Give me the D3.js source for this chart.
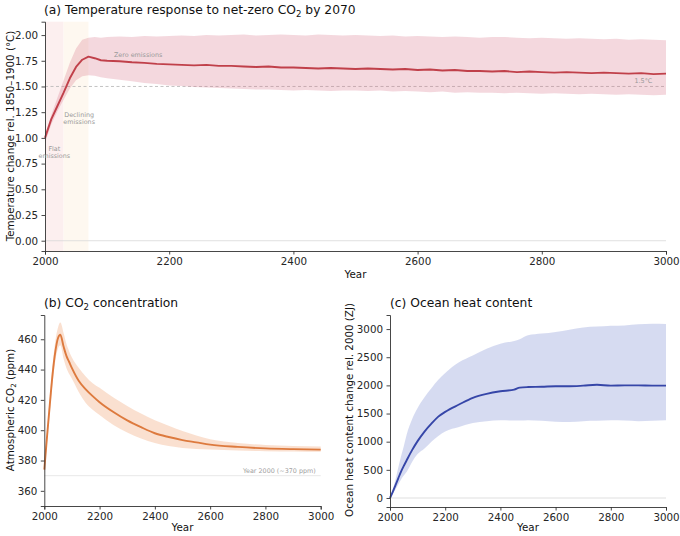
<!DOCTYPE html>
<html>
<head>
<meta charset="utf-8">
<script src="https://cdn.jsdelivr.net/npm/d3@7"></script>
<style>
body{margin:0;background:#fff;}
svg{font-family:"DejaVu Sans",sans-serif;}
</style>
</head>
<body>
<svg width="680" height="536"></svg>
<script>
// ---- data ----
var tempYears = [2000,2010,2020,2030,2040,2050,2060,2070,2080,2090,2100,
	2120,2140,2160,2180,2200,2220,2240,2260,2280,2300,2320,2340,2360,2380,2400,
	2420,2440,2460,2480,2500,2520,2540,2560,2580,2600,2620,2640,2660,2680,2700,
	2720,2740,2760,2780,2800,2820,2840,2860,2880,2900,2920,2940,2960,2980,3000];
var tempMean = [1.00,1.18,1.31,1.44,1.58,1.69,1.76,1.79,1.775,1.755,1.75,
	1.745,1.735,1.73,1.72,1.715,1.71,1.705,1.71,1.70,1.70,1.695,1.69,1.695,1.685,1.685,
	1.68,1.675,1.68,1.675,1.67,1.675,1.67,1.665,1.67,1.66,1.665,1.655,1.66,1.65,1.65,
	1.645,1.65,1.64,1.645,1.64,1.635,1.64,1.635,1.63,1.635,1.63,1.625,1.63,1.62,1.625];
var tempHigh = [1.03,1.22,1.39,1.56,1.73,1.87,1.955,1.975,1.98,1.975,1.98,
	1.985,1.98,1.99,1.985,1.99,1.995,1.99,2.00,1.995,2.00,2.005,1.995,2.00,2.005,2.00,
	1.995,2.005,2.00,1.995,2.00,1.995,1.99,1.995,1.985,1.99,1.985,1.98,1.985,1.98,1.975,
	1.98,1.98,1.975,1.97,1.975,1.97,1.965,1.97,1.965,1.96,1.965,1.955,1.96,1.955,1.95];
var tempLow = [0.95,1.13,1.26,1.37,1.48,1.56,1.60,1.61,1.605,1.59,1.58,
	1.565,1.55,1.535,1.525,1.51,1.505,1.495,1.49,1.485,1.48,1.475,1.47,1.47,1.465,1.46,
	1.465,1.46,1.455,1.46,1.46,1.455,1.46,1.45,1.455,1.45,1.445,1.45,1.44,1.445,1.44,
	1.44,1.435,1.44,1.435,1.43,1.435,1.43,1.425,1.43,1.425,1.42,1.425,1.42,1.415,1.42];

var co2Years = [2000,2010,2020,2030,2040,2050,2058,2070,2080,2090,2100,2125,2150,2175,2200,
	2250,2300,2350,2400,2450,2500,2550,2600,2700,2800,2900,3000];
var co2Mean = [374,396,417,437,452,461,463,455,449,445,441,432.5,427,422.5,418.5,
	412,406.5,402,398,395.5,393.5,392,390.5,389,388,387.5,387.2];
var co2High = [377,400,422,443,459,468,471,464,457,452,448,441,435.5,431,428,
	421.5,416,411,406.5,403,399.5,396.5,394,391.5,390.3,389.6,389.2];
var co2Low = [371,392,412,431,446,454,456,447,441,437,434,425,418,413.5,410,
	403.5,398.5,394.5,391.5,389.5,388.3,387.6,387.2,386.6,386.2,386,385.8];

var ohcYears = [2000,2010,2020,2030,2040,2050,2060,2080,2100,2125,2150,2175,2200,2250,2300,
	2350,2400,2450,2470,2500,2550,2600,2650,2700,2750,2800,2850,2900,2950,3000];
var ohcMean = [0,110,230,350,470,570,665,850,1010,1180,1320,1445,1530,1660,1780,
	1850,1895,1925,1960,1970,1975,1985,1985,1995,2010,1995,2000,2000,1995,1995];
var ohcHigh = [0,150,330,540,740,920,1120,1400,1600,1790,1950,2100,2220,2410,2530,
	2650,2740,2790,2820,2890,2920,2950,2990,3030,3045,3060,3065,3085,3095,3090];
var ohcLow = [0,70,150,240,330,400,460,640,780,880,1000,1100,1180,1260,1330,
	1365,1380,1375,1375,1380,1370,1355,1350,1365,1370,1380,1375,1365,1370,1380];

var yearTicks = [2000,2200,2400,2600,2800,3000];
var tempTicks = [0,0.25,0.5,0.75,1.0,1.25,1.5,1.75,2.0];
var co2Ticks = [360,380,400,420,440,460];
var ohcTicks = [0,500,1000,1500,2000,2500,3000];

var phases = [
	{name: ["Flat", "emissions"], from: 2000, to: 2030, fill: "#fcefef", lx: 2015, ly: 0.89},
	{name: ["Declining", "emissions"], from: 2030, to: 2070, fill: "#fef8f0", lx: 2055, ly: 1.22},
	{name: ["Zero emissions"], from: 2070, to: 3000, fill: null, lx: 2150, ly: 1.81}
];

var svg = d3.select("svg");
var axisColor = "#333";
var tickSize = 10.3, labelSize = 10.3, titleSize = 12.3, noteSize = 6.4;

function makePanel(left, right, top, bottom, yDomain){
	var x = d3.scaleLinear().domain([2000, 3000]).range([left, right]);
	var y = d3.scaleLinear().domain(yDomain).range([bottom, top]);
	return {x: x, y: y, g: svg.append("g")};
}

function drawAxes(p, yTicks, fmt){
	var xa = p.g.append("g")
		.attr("transform", "translate(0," + p.y.range()[0] + ")")
		.call(d3.axisBottom(p.x).tickValues(yearTicks).tickSize(3.5).tickPadding(3.5).tickFormat(d3.format("d")));
	var ya = p.g.append("g")
		.attr("transform", "translate(" + p.x.range()[0] + ",0)")
		.call(d3.axisLeft(p.y).tickValues(yTicks).tickSize(3.5).tickPadding(3.5).tickFormat(fmt));
	[xa, ya].forEach(function(a){
		a.selectAll("path").attr("stroke", axisColor).attr("stroke-width", 0.9);
		a.selectAll("line").attr("stroke", axisColor).attr("stroke-width", 0.9);
		a.selectAll("text").attr("fill", "#262626").attr("font-size", tickSize)
			.attr("font-family", "DejaVu Sans, sans-serif");
	});
}

function drawSeries(p, years, mean, lo, hi, lineColor, bandColor, bandOpacity, curve){
	var rows = years.map(function(d, i){ return {yr: d, m: mean[i], lo: lo[i], hi: hi[i]}; });
	var area = d3.area().curve(curve)
		.x(function(d){ return p.x(d.yr); })
		.y0(function(d){ return p.y(d.lo); })
		.y1(function(d){ return p.y(d.hi); });
	var line = d3.line().curve(curve)
		.x(function(d){ return p.x(d.yr); })
		.y(function(d){ return p.y(d.m); });
	p.g.append("path").datum(rows).attr("d", area).attr("fill", bandColor).attr("fill-opacity", bandOpacity);
	p.g.append("path").datum(rows).attr("d", line)
		.attr("fill", "none").attr("stroke", lineColor).attr("stroke-width", 1.9)
		.attr("stroke-linejoin", "round");
}

function hline(p, v, color, dash){
	p.g.append("line")
		.attr("x1", p.x.range()[0]).attr("x2", p.x.range()[1])
		.attr("y1", p.y(v)).attr("y2", p.y(v))
		.attr("stroke", color).attr("stroke-width", 0.8)
		.attr("stroke-dasharray", dash || null);
}

// text with a subscript "2" in CO2
function richText(sel, parts, fs){
	var shift = 0;
	parts.forEach(function(pt){
		var ts = sel.append("tspan").text(pt.t);
		if (pt.sub){
			ts.attr("font-size", fs * 0.7).attr("dy", fs * 0.22);
			shift = fs * 0.22;
		} else if (shift){
			ts.attr("dy", -shift);
			shift = 0;
		}
	});
}

function title(x, y, parts){
	var t = svg.append("text").attr("x", x).attr("y", y).attr("font-size", titleSize).attr("fill", "#111");
	richText(t, parts, titleSize);
}

function yLabel(x, cy, parts){
	var t = svg.append("text").attr("transform", "translate(" + x + "," + cy + ") rotate(-90)")
		.attr("text-anchor", "middle").attr("font-size", labelSize).attr("fill", "#111");
	richText(t, parts, labelSize);
}

function xLabel(p, y){
	svg.append("text").attr("x", (p.x.range()[0] + p.x.range()[1]) / 2).attr("y", y)
		.attr("text-anchor", "middle").attr("font-size", labelSize).attr("fill", "#111").text("Year");
}

// ---- (a) temperature ----
var pa = makePanel(45, 666, 21.7, 251, [-0.1, 2.13]);
phases.forEach(function(ph){
	if (!ph.fill) return;
	pa.g.append("rect")
		.attr("x", pa.x(ph.from)).attr("width", pa.x(ph.to) - pa.x(ph.from))
		.attr("y", pa.y.range()[1]).attr("height", pa.y.range()[0] - pa.y.range()[1])
		.attr("fill", ph.fill);
});
hline(pa, 0, "#d8d8d8");
hline(pa, 1.5, "#b4b4b4", "3,2.5");
drawSeries(pa, tempYears, tempMean, tempLow, tempHigh, "#c0404a", "#d66a80", 0.26, d3.curveLinear);
drawAxes(pa, tempTicks, d3.format(".2f"));
phases.forEach(function(ph){
	var t = pa.g.append("text").attr("x", pa.x(ph.lx)).attr("y", pa.y(ph.ly) + 2.2)
		.attr("text-anchor", "middle").attr("font-size", noteSize).attr("fill", "#999");
	ph.name.forEach(function(s, i){
		t.append("tspan").attr("x", pa.x(ph.lx)).attr("dy", i ? 6.8 : 0).text(s);
	});
});
pa.g.append("text").attr("x", pa.x(2978)).attr("y", pa.y(1.5) - 3.5)
	.attr("text-anchor", "end").attr("font-size", noteSize).attr("fill", "#999").text("1.5\u00b0C");
title(44, 14, [{t: "(a) Temperature response to net-zero CO"}, {t: "2", sub: true}, {t: " by 2070"}]);
yLabel(14, 136, [{t: "Temperature change rel. 1850\u20131900 (\u00b0C)"}]);
xLabel(pa, 278);

// ---- (b) CO2 ----
var pb = makePanel(44.3, 320.7, 315, 506, [350, 476]);
hline(pb, 370, "#e2e2e2");
drawSeries(pb, co2Years, co2Mean, co2Low, co2High, "#dd7a3e", "#f0a070", 0.33, d3.curveMonotoneX);
drawAxes(pb, co2Ticks, d3.format("d"));
pb.g.append("text").attr("x", pb.x(2982)).attr("y", pb.y(370) - 2.5)
	.attr("text-anchor", "end").attr("font-size", noteSize).attr("fill", "#a0a0a0").text("Year 2000 (~370 ppm)");
title(44, 307, [{t: "(b) CO"}, {t: "2", sub: true}, {t: " concentration"}]);
yLabel(14, 410, [{t: "Atmospheric CO"}, {t: "2", sub: true}, {t: " (ppm)"}]);
xLabel(pb, 531);

// ---- (c) ocean heat ----
var pc = makePanel(390, 666, 315, 507, [-160, 3250]);
hline(pc, 0, "#d8d8d8");
drawSeries(pc, ohcYears, ohcMean, ohcLow, ohcHigh, "#3646a8", "#7887d2", 0.3, d3.curveMonotoneX);
drawAxes(pc, ohcTicks, d3.format("d"));
title(390, 307, [{t: "(c) Ocean heat content"}]);
yLabel(353, 410, [{t: "Ocean heat content change rel. 2000 (ZJ)"}]);
xLabel(pc, 531);
</script>
</body>
</html>
